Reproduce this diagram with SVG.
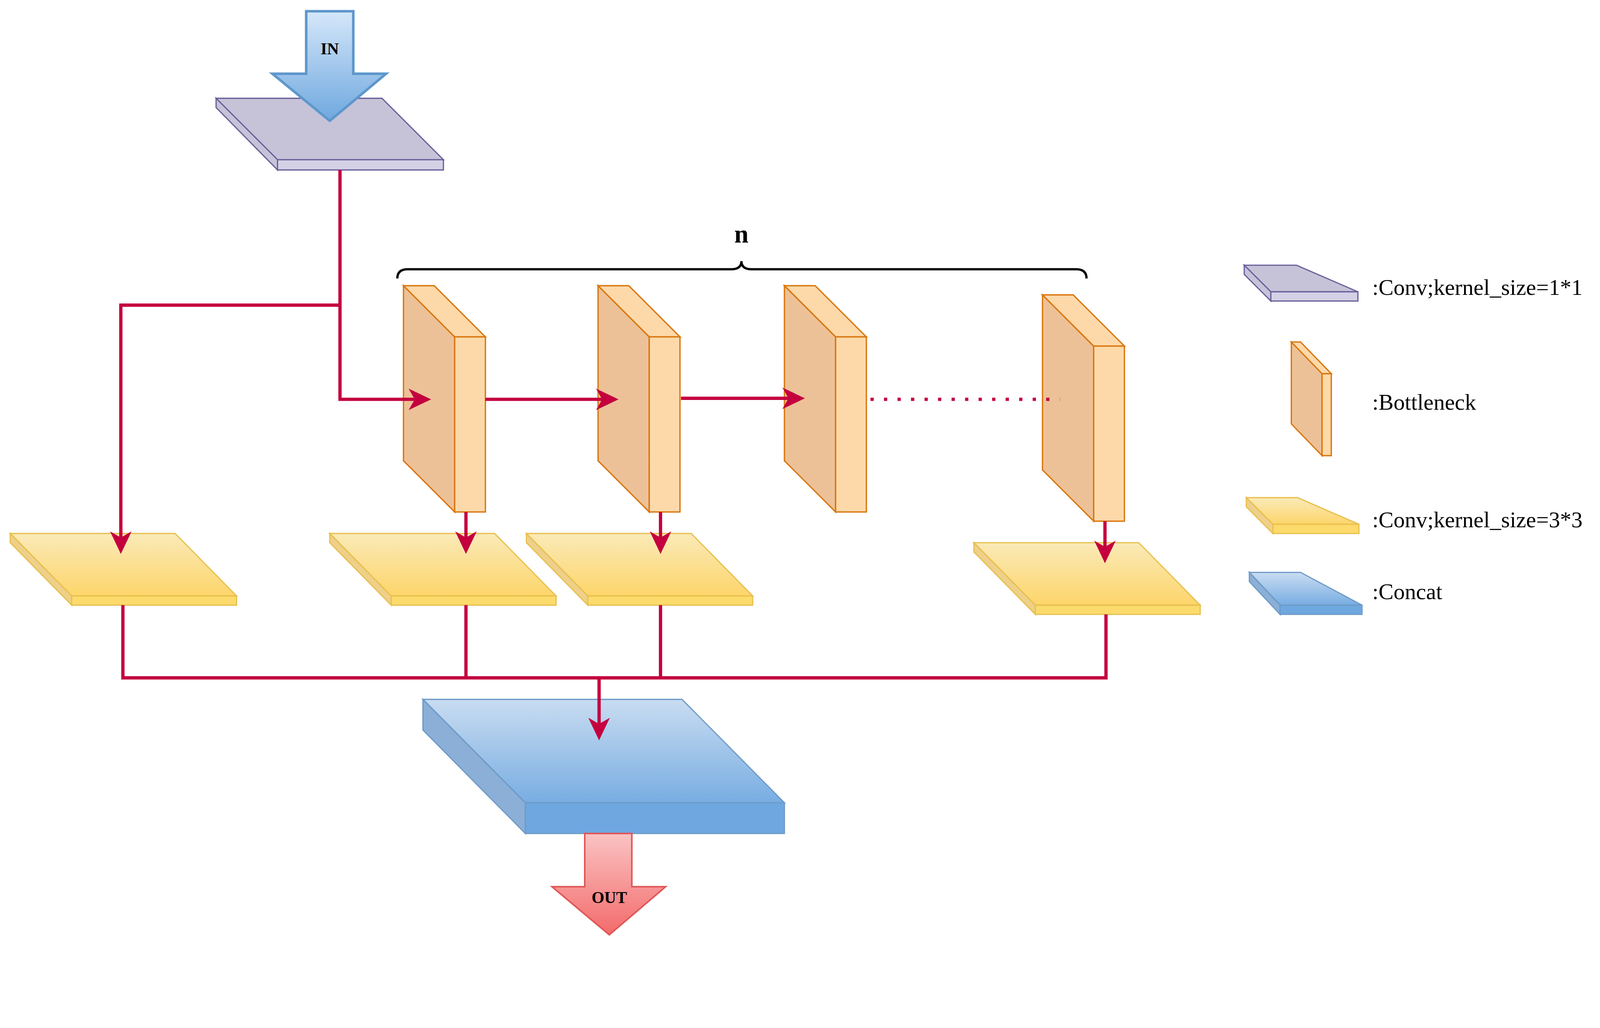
<svg xmlns="http://www.w3.org/2000/svg" width="4460" height="2632" viewBox="0 0 4460 2632">
<defs>
<style>
.ln{fill:none;stroke:#C4003F;stroke-width:3.2}
.dot{fill:none;stroke:#C4003F;stroke-width:3.2;stroke-dasharray:3.2 10}
.ah{fill:#C4003F;stroke:none}
.pu{fill:#C6C3D8;stroke:#6B5F9A;stroke-width:1.2}
.puf{fill:#D4D1E6;stroke:#6B5F9A;stroke-width:1.2}
.ol{fill:#EDC197;stroke:#D9770F;stroke-width:1.3}
.of{fill:#FDD9AA;stroke:#D9770F;stroke-width:1.3}
.ye{fill:url(#gy);stroke:#E8C04E;stroke-width:1.2}
.yf{fill:#FCDB6C;stroke:#E8C04E;stroke-width:1.2}
.ys{fill:#EED08A;stroke:#E8C04E;stroke-width:1.2}
.bl{fill:url(#gb);stroke:#6E9BC8;stroke-width:1.2}
.bf{fill:#6FA8E0;stroke:#6E9BC8;stroke-width:1.2}
.bs{fill:#8BAFD6;stroke:#6E9BC8;stroke-width:1.2}
.lg{font-family:"Liberation Serif",serif;font-size:22px;fill:#000}
.bd{font-family:"Liberation Serif",serif;font-weight:bold;fill:#000;text-anchor:middle}
</style>
<linearGradient id="gy" x1="0" y1="0" x2="0" y2="1"><stop offset="0" stop-color="#FAEAB8"/><stop offset="1" stop-color="#FDD56A"/></linearGradient>
<linearGradient id="gb" x1="0" y1="0" x2="0" y2="1"><stop offset="0" stop-color="#C9DCF1"/><stop offset="1" stop-color="#78ADE2"/></linearGradient>
<linearGradient id="gin" x1="0" y1="0" x2="0" y2="1"><stop offset="0" stop-color="#D5E7FA"/><stop offset="1" stop-color="#6FA8DE"/></linearGradient>
<linearGradient id="gout" x1="0" y1="0" x2="0" y2="1"><stop offset="0" stop-color="#FBC3C3"/><stop offset="1" stop-color="#F36B6B"/></linearGradient>
</defs>
<g transform="scale(2.6216)">
<g id="conv_in">
<polygon class="pu" points="211,96 373,96 433,156 271,156"/>
<polygon class="puf" points="271,156 433,156 433,166 271,166"/>
<polygon class="pu" points="211,96 271,156 271,166 211,105"/>
</g>
<g id="in_arrow">
<polygon points="299,11 345,11 345,72 377,72 322,118 266,72 299,72" fill="url(#gin)" stroke="#5E97CC" stroke-width="2.5"/>
<text class="bd" x="322" y="53" font-size="16">IN</text>
</g>
<g id="bottleneck1"><polygon class="ol" points="394,279 444,329 444,500 394,450"/><polygon class="of" points="394,279 424,279 474,329 444,329"/><rect class="of" x="444" y="329" width="30" height="171"/></g>
<g id="bottleneck2"><polygon class="ol" points="584,279 634,329 634,500 584,450"/><polygon class="of" points="584,279 614,279 664,329 634,329"/><rect class="of" x="634" y="329" width="30" height="171"/></g>
<g id="bottleneck3"><polygon class="ol" points="766,279 816,329 816,500 766,450"/><polygon class="of" points="766,279 796,279 846,329 816,329"/><rect class="of" x="816" y="329" width="30" height="171"/></g>
<g id="bottleneck4"><polygon class="ol" points="1018,288 1068,338 1068,509 1018,459"/><polygon class="of" points="1018,288 1048,288 1098,338 1068,338"/><rect class="of" x="1068" y="338" width="30" height="171"/></g>
<g id="conv3_1"><polygon class="ye" points="10,521 171,521 231,582 70,582"/><polygon class="ys" points="10,521 70,582 70,591 10,530"/><rect class="yf" x="70" y="582" width="161" height="9"/></g>
<g id="conv3_2"><polygon class="ye" points="322,521 483,521 543,582 382,582"/><polygon class="ys" points="322,521 382,582 382,591 322,530"/><rect class="yf" x="382" y="582" width="161" height="9"/></g>
<g id="conv3_3"><polygon class="ye" points="514,521 675,521 735,582 574,582"/><polygon class="ys" points="514,521 574,582 574,591 514,530"/><rect class="yf" x="574" y="582" width="161" height="9"/></g>
<g id="conv3_4"><polygon class="ye" points="951,530 1112,530 1172,591 1011,591"/><polygon class="ys" points="951,530 1011,591 1011,600 951,539"/><rect class="yf" x="1011" y="591" width="161" height="9"/></g>
<g id="concat">
<polygon class="bl" points="413,683 666,683 766,784 513,784"/>
<polygon class="bs" points="413,683 513,784 513,814 413,713"/>
<rect class="bf" x="513" y="784" width="253" height="30"/>
</g>
<g id="connectors">
<path class="ln" d="M332,166 V390 H405"/>
<path class="ln" d="M332,298 H118 V525"/>
<path class="ln" d="M474,390 H588"/>
<path class="ln" d="M665,389 H770"/>
<path class="dot" d="M850,390 H1035"/>
<path class="ln" d="M455,500 V525"/>
<path class="ln" d="M645,500 V525"/>
<path class="ln" d="M1079,509 V534"/>
<path class="ln" d="M120,591 V662 H1080 V600 M455,591 V662 M645,591 V662"/>
<path class="ln" d="M585,662 V707"/>
<polygon class="ah" points="421,390 399,379.5 405,390 399,400.5"/>
<polygon class="ah" points="604,390 582,379.5 588,390 582,400.5"/>
<polygon class="ah" points="786,389 764,378.5 770,389 764,399.5"/>
<polygon class="ah" points="118,541 107.5,519 118,525 128.5,519"/>
<polygon class="ah" points="455,541 444.5,519 455,525 465.5,519"/>
<polygon class="ah" points="645,541 634.5,519 645,525 655.5,519"/>
<polygon class="ah" points="1079,550 1068.5,528 1079,534 1089.5,528"/>
<polygon class="ah" points="585,723 574.5,701 585,707 595.5,701"/>
</g>
<g id="brace">
<path d="M388,272 Q388,263 398,263 H714 Q724,263 724,255 Q724,263 734,263 H1051 Q1061,263 1061,272" fill="none" stroke="#000" stroke-width="2.2"/>
<text class="bd" x="724" y="237" font-size="25">n</text>
</g>
<g id="out_arrow">
<polygon points="571,814 617,814 617,866 650,866 595,913 539,866 571,866" fill="url(#gout)" stroke="#E05656" stroke-width="1.5"/>
<text class="bd" x="595" y="882" font-size="16">OUT</text>
</g>
<g id="legend_conv1">
<polygon class="pu" points="1215,259 1266,259 1326,285 1241,285"/>
<polygon class="pu" points="1215,259 1241,285 1241,294 1215,268"/>
<rect class="puf" x="1241" y="285" width="85" height="9"/>
<text class="lg" x="1340" y="288">:Conv;kernel_size=1*1</text>
</g>
<g id="legend_bottleneck">
<polygon class="ol" points="1261,334 1291,365 1291,445 1261,414"/>
<polygon class="of" points="1261,334 1270,334 1300,365 1291,365"/>
<rect class="of" x="1291" y="365" width="9" height="80"/>
<text class="lg" x="1340" y="400">:Bottleneck</text>
</g>
<g id="legend_conv3">
<polygon class="ye" points="1217,486 1267,486 1327,512 1243,512"/>
<polygon class="ys" points="1217,486 1243,512 1243,521 1217,495"/>
<rect class="yf" x="1243" y="512" width="84" height="9"/>
<text class="lg" x="1340" y="515">:Conv;kernel_size=3*3</text>
</g>
<g id="legend_concat">
<polygon class="bl" points="1220,559 1270,559 1330,591 1250,591"/>
<polygon class="bs" points="1220,559 1250,591 1250,600 1220,568"/>
<rect class="bf" x="1250" y="591" width="80" height="9"/>
<text class="lg" x="1340" y="585">:Concat</text>
</g>
</g>
</svg>
